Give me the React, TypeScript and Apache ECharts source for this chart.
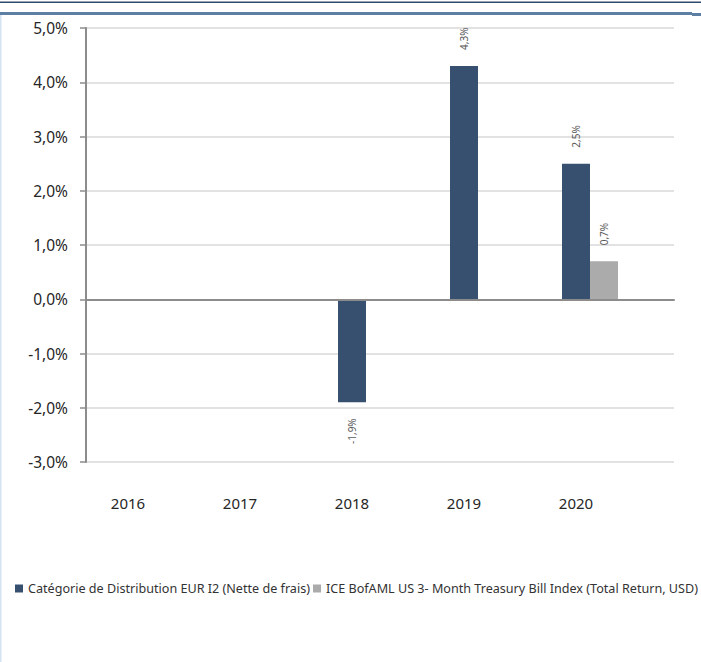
import React, { useEffect, useRef } from "react";
import * as echarts from "echarts";

const categories = ["2016", "2017", "2018", "2019", "2020"];
const fundValues: (number | null)[] = [null, null, -1.9, 4.3, 2.5];
const indexValues: (number | null)[] = [null, null, null, null, 0.7];
const seriesNames = [
  "Catégorie de Distribution EUR I2 (Nette de frais)",
  "ICE BofAML US 3- Month Treasury Bill Index (Total Return, USD)",
];
const yMin = -3;
const yMax = 5;
const yInterval = 1;

const FONT = "'Noto Sans', 'Open Sans', sans-serif";
const fmt = (v: number) => v.toFixed(1).replace(".", ",") + "%";

const toData = (vals: (number | null)[]) =>
  vals.map((v) =>
    v === null
      ? null
      : {
          value: v,
          label: {
            position: v < 0 ? "bottom" : "top",
            align: v < 0 ? "right" : "left",
            verticalAlign: "middle",
          },
        }
  );

export default function App() {
  const ref = useRef<HTMLDivElement>(null);
  useEffect(() => {
    if (!ref.current) return;
    const chart = echarts.init(ref.current, undefined, { renderer: "svg" });
    const labelCfg = {
      show: true,
      rotate: 90,
      distance: 16,
      fontSize: 10,
      fontFamily: FONT,
      color: "#595959",
      formatter: (p: any) => fmt(p.value),
    };
    chart.setOption({
      animation: false,
      backgroundColor: "#ffffff",
      textStyle: { fontFamily: FONT },
      grid: [
        { left: 86, top: 28, width: 588, height: 434 },
        { left: 86, top: 28, width: 560, height: 434 },
      ],
      xAxis: [
        {
          gridIndex: 0,
          type: "value",
          min: 0,
          max: 1,
          axisLine: { show: true, onZero: true, lineStyle: { color: "#8c8c8c", width: 2 } },
          axisTick: { show: false },
          axisLabel: { show: false },
          splitLine: { show: false },
          z: 5,
        },
        {
          gridIndex: 1,
          type: "category",
          data: categories,
          axisLine: { show: false, onZero: false },
          axisTick: { show: false },
          axisLabel: {
            margin: 33,
            fontSize: 15,
            color: "#262626",
            fontFamily: FONT,
            padding: [0, 28, 0, 0],
          },
          splitLine: { show: false },
        },
      ],
      yAxis: [
        {
          gridIndex: 0,
          type: "value",
          min: yMin,
          max: yMax,
          interval: yInterval,
          axisLine: { show: true, lineStyle: { color: "#8c8c8c", width: 2 } },
          axisTick: { show: true, length: 6, lineStyle: { color: "#8c8c8c", width: 1.5 } },
          axisLabel: {
            margin: 18,
            fontSize: 15.5,
            color: "#262626",
            fontFamily: FONT,
            formatter: (v: number) => fmt(v),
          },
          splitLine: { show: true, lineStyle: { color: "#d9d9d9", width: 1.5 } },
        },
        {
          gridIndex: 1,
          type: "value",
          min: yMin,
          max: yMax,
          interval: yInterval,
          show: false,
          splitLine: { show: false },
        },
      ],
      legend: {
        left: 15,
        top: 582,
        padding: 0,
        icon: "rect",
        itemWidth: 8,
        itemHeight: 8,
        itemGap: 3,
        textStyle: { fontSize: 12.6, color: "#333333", fontFamily: FONT },
        data: seriesNames,
      },
      series: [
        {
          name: seriesNames[0],
          type: "bar",
          xAxisIndex: 1,
          yAxisIndex: 1,
          barWidth: 28,
          barGap: "0%",
          itemStyle: { color: "#38506f" },
          label: labelCfg,
          data: toData(fundValues),
        },
        {
          name: seriesNames[1],
          type: "bar",
          xAxisIndex: 1,
          yAxisIndex: 1,
          barWidth: 28,
          barGap: "0%",
          itemStyle: { color: "#ababab" },
          label: labelCfg,
          data: toData(indexValues),
        },
      ],
      graphic: [
        { type: "rect", shape: { x: 0, y: 1.5, width: 701, height: 1.5 }, style: { fill: "#2e4a6c" } },
        { type: "rect", shape: { x: 0, y: 12, width: 692, height: 3 }, style: { fill: "#5e7fa4" } },
        { type: "rect", shape: { x: 692, y: 13, width: 9, height: 3 }, style: { fill: "#5e7fa4" } },
        { type: "rect", shape: { x: 0, y: 15, width: 1.5, height: 647 }, style: { fill: "#d5e2ef" } },
      ],
    });
    return () => chart.dispose();
  }, []);
  return (
    <div
      ref={ref}
      style={{ position: "fixed", left: 0, top: 0, width: 701, height: 662 }}
    />
  );
}
